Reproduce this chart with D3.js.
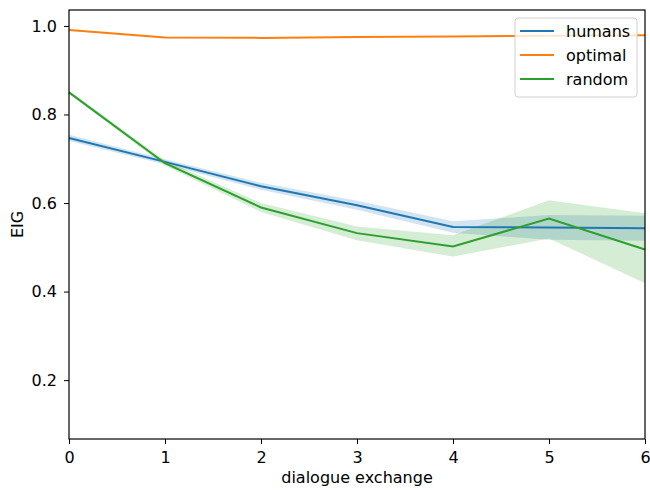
<!DOCTYPE html>
<html><head><meta charset="utf-8">
<script src="https://cdn.jsdelivr.net/npm/d3@7"></script>
<style>body{margin:0;background:#fff}svg{display:block}text{font-family:"DejaVu Sans",sans-serif}</style>
</head><body><svg id="c" width="650" height="492"></svg>
<script>
const xs = [0,1,2,3,4,5,6];
const humans = [0.747,0.693,0.638,0.595,0.546,0.545,0.543];
const humansLo = [0.740,0.687,0.630,0.585,0.533,0.517,0.515];
const humansHi = [0.754,0.699,0.646,0.605,0.559,0.573,0.571];
const optimal = [0.991,0.974,0.973,0.975,0.976,0.978,0.979];
const random = [0.850,0.690,0.590,0.532,0.502,0.565,0.495];
const randomLo = [0.846,0.684,0.580,0.516,0.479,0.520,0.419];
const randomHi = [0.854,0.696,0.600,0.547,0.527,0.606,0.577];
const yTicks = [0.2,0.4,0.6,0.8,1.0];
const seriesNames = ["humans","optimal","random"];
const colors = ["#1f77b4","#ff7f0e","#2ca02c"];

const FS = 16;
const svg = d3.select("#c");
const L=69,R=645,T=10,B=439;
const x = d3.scaleLinear().domain([0,6]).range([L,R]);
const y = d3.scaleLinear().domain([0.067,1.036]).range([B,T]);

const area = (lo,hi)=>d3.area().x((d,i)=>x(xs[i])).y0((d,i)=>y(lo[i])).y1((d,i)=>y(hi[i]))(xs);
const line = v=>d3.line().x((d,i)=>x(xs[i])).y((d,i)=>y(v[i]))(xs);

svg.append("path").attr("d",area(humansLo,humansHi)).attr("fill",colors[0]).attr("fill-opacity",0.2);
svg.append("path").attr("d",area(randomLo,randomHi)).attr("fill",colors[2]).attr("fill-opacity",0.2);
[humans,optimal,random].forEach((v,i)=>{
  svg.append("path").attr("d",line(v)).attr("fill","none").attr("stroke",colors[i]).attr("stroke-width",2);
});

const gx = svg.append("g").attr("transform",`translate(0,${B})`).call(d3.axisBottom(x).tickValues(xs).tickFormat(d3.format("d")).tickSize(5).tickSizeOuter(0));
const gy = svg.append("g").attr("transform",`translate(${L},0)`).call(d3.axisLeft(y).tickValues(yTicks).tickFormat(d3.format(".1f")).tickSize(5).tickSizeOuter(0));
[gx,gy].forEach(g=>{g.select(".domain").remove();g.selectAll("text").attr("font-size",FS).attr("fill","#000").attr("font-family","DejaVu Sans");g.selectAll("line").attr("stroke","#000").attr("stroke-width",1);});
gx.selectAll("text").attr("y",24).attr("dy",null);
gy.selectAll("text").attr("x",-12);

svg.append("rect").attr("x",L).attr("y",T).attr("width",R-L).attr("height",B-T).attr("fill","none").attr("stroke","#000").attr("stroke-width",1.2);

svg.append("text").attr("x",(L+R)/2).attr("y",483).attr("text-anchor","middle").attr("font-size",FS).text("dialogue exchange");
svg.append("text").attr("transform",`translate(23,${(T+B)/2}) rotate(-90)`).attr("text-anchor","middle").attr("font-size",FS).text("EIG");

const lg = svg.append("g");
lg.append("rect").attr("x",515).attr("y",18).attr("width",122).attr("height",79).attr("rx",3).attr("fill","#fff").attr("fill-opacity",0.8).attr("stroke","#d0d0d0");
seriesNames.forEach((n,i)=>{
  const yy = 31+i*24;
  lg.append("line").attr("x1",520).attr("x2",554).attr("y1",yy).attr("y2",yy).attr("stroke",colors[i]).attr("stroke-width",2);
  lg.append("text").attr("x",566).attr("y",yy).attr("dy","0.35em").attr("font-size",FS).text(n);
});
</script></body></html>
